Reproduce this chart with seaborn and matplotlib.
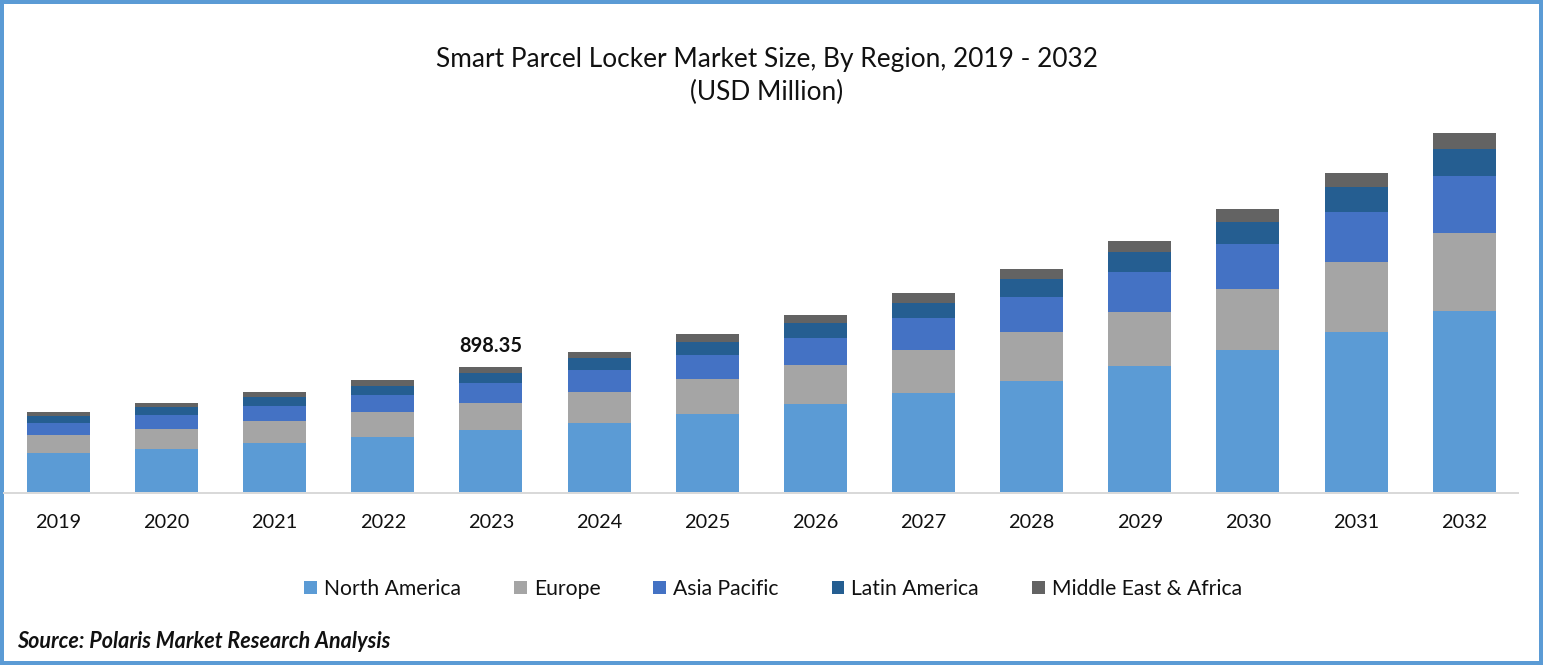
import matplotlib.pyplot as plt
import pandas as pd
import seaborn as sns
from matplotlib.patches import Patch

years = ['2019', '2020', '2021', '2022', '2023', '2024', '2025',
         '2026', '2027', '2028', '2029', '2030', '2031', '2032']

# USD million (2023 total is labelled 898.35)
north_america = [280, 309, 352, 395, 446, 496, 561, 632, 711, 798, 906, 1021, 1150, 1301]
europe = [129, 144, 158, 180, 194, 223, 252, 280, 309, 352, 388, 438, 503, 561]
asia_pacific = [86, 101, 108, 122, 144, 158, 172, 194, 230, 252, 287, 323, 359, 410]
latin_america = [50, 57, 65, 65, 72, 86, 93, 108, 108, 129, 144, 158, 180, 194]
middle_east_africa = [29, 29, 36, 43, 42.35, 43, 57, 57, 72, 72, 79, 93, 101, 115]

regions = ['North America', 'Europe', 'Asia Pacific', 'Latin America', 'Middle East & Africa']
colors = ['#5b9bd5', '#a5a5a5', '#4472c4', '#255e91', '#636363']

W, H = 1543, 665

sns.set_style('white')
plt.rcParams['font.family'] = ['Lato', 'DejaVu Sans']

data = pd.DataFrame({'year': years,
                     'North America': north_america,
                     'Europe': europe,
                     'Asia Pacific': asia_pacific,
                     'Latin America': latin_america,
                     'Middle East & Africa': middle_east_africa})

# Stack by drawing the running totals, tallest first
totals = data[regions].cumsum(axis=1)
totals['year'] = data['year']

fig = plt.figure(figsize=(W / 100, H / 100), dpi=100, facecolor='white',
                 edgecolor='#5b9bd5', linewidth=5.76)
ax = fig.add_axes([4.2 / W, 1 - 492 / H, 1514.1 / W, 372 / H])

for region, color in reversed(list(zip(regions, colors))):
    sns.barplot(data=totals, x='year', y=region, color=color, saturation=1,
                width=0.5825, linewidth=0, ax=ax)

ax.set_xlim(-0.5, 13.5)
ax.set_ylim(0, 2673.6)
ax.set_xlabel('')
ax.set_ylabel('')
ax.set_yticks([])
ax.tick_params(axis='x', length=0, pad=14.8, labelsize=14.3, labelcolor='#111111')
sns.despine(ax=ax, left=True)
ax.spines['bottom'].set_position(('outward', 0.72))
ax.spines['bottom'].set_color('#d9d9d9')
ax.spines['bottom'].set_linewidth(1.44)

# Only 2023 carries a value label
idx_2023 = years.index('2023')
total_2023 = totals.loc[idx_2023, regions[-1]]
ax.annotate(f'{total_2023:.2f}', (idx_2023, total_2023), xytext=(0, 11),
            textcoords='offset pixels', ha='center', va='bottom',
            fontsize=14.4, fontweight='bold', color='#111111')

fig.text(766.5 / W, 1 - 76 / H, 'Smart Parcel Locker Market Size, By Region, 2019 - 2032\n(USD Million)',
         ha='center', va='center', fontsize=18.9, color='#111111', linespacing=1.37)

handles = [Patch(facecolor=c, edgecolor='none', label=r) for r, c in zip(regions, colors)]
fig.legend(handles=handles, ncol=5, frameon=False, loc='center',
           bbox_to_anchor=(773 / W, 1 - 589 / H), fontsize=15.25,
           handlelength=0.6, handleheight=0.6, handletextpad=0.33, columnspacing=2.5,
           labelcolor='#111111')

fig.text(17 / W, 1 - 642 / H, 'Source: Polaris Market Research Analysis', ha='left', va='center',
         fontsize=15.5, fontweight='bold', fontstyle='italic', color='#111111')

fig.savefig('out.png', dpi=100)
